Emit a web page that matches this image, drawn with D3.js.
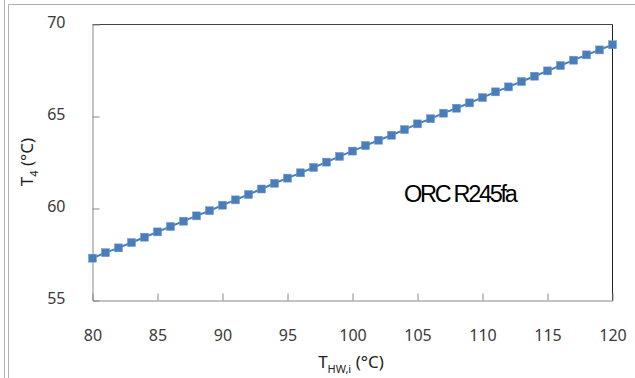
<!DOCTYPE html>
<html><head><meta charset="utf-8">
<script src="https://cdn.jsdelivr.net/npm/d3@7"></script>
<style>body{margin:0;background:#fff}svg{display:block}</style>
</head><body><svg id="c" width="635" height="378"></svg>
<script>
const xValues = [80,81,82,83,84,85,86,87,88,89,90,91,92,93,94,95,96,97,98,99,100,101,102,103,104,105,106,107,108,109,110,111,112,113,114,115,116,117,118,119,120];
const t4Values = [57.30,57.60,57.86,58.15,58.44,58.73,59.02,59.31,59.60,59.88,60.18,60.47,60.76,61.06,61.37,61.65,61.94,62.23,62.52,62.83,63.12,63.42,63.71,63.98,64.29,64.60,64.88,65.18,65.45,65.74,66.03,66.34,66.61,66.90,67.19,67.48,67.77,68.06,68.35,68.62,68.90];
const xTicks = [80,85,90,95,100,105,110,115,120];
const yTicks = [55,60,65,70];
const seriesLabel = "ORC R245fa";

const svg = d3.select("#c");
const L=92.5, R=612.5, T=24.5, B=300.5;
const x = d3.scaleLinear().domain([80,120]).range([L,R]);
const y = d3.scaleLinear().domain([55,70]).range([B,T]);
const font = "'Noto Sans','Open Sans',sans-serif";

// outer frame
svg.append("line").attr("x1",4.5).attr("x2",4.5).attr("y1",0).attr("y2",378).attr("stroke","#b0b0b0");
svg.append("line").attr("x1",8.5).attr("x2",8.5).attr("y1",4.5).attr("y2",378).attr("stroke","#b0b0b0");
svg.append("line").attr("x1",8.5).attr("x2",635).attr("y1",4.5).attr("y2",4.5).attr("stroke","#b0b0b0");

// plot frame
svg.append("line").attr("x1",L).attr("x2",R).attr("y1",T).attr("y2",T).attr("stroke","#444");
svg.append("line").attr("x1",R).attr("x2",R).attr("y1",T).attr("y2",B).attr("stroke","#222");

const xAxis = svg.append("g").attr("transform",`translate(0,${B})`)
  .call(d3.axisBottom(x).tickValues(xTicks).tickSize(-7).tickPadding(29).tickFormat(d3.format("d")));
const yAxis = svg.append("g").attr("transform",`translate(${L},0)`)
  .call(d3.axisLeft(y).tickValues(yTicks).tickSize(-7).tickPadding(27).tickFormat(d3.format("d")));
[xAxis,yAxis].forEach(a=>{
  a.select(".domain").attr("stroke","#888");
  a.selectAll(".tick line").attr("stroke","#888");
  a.selectAll(".tick text").attr("fill","#3a3a3a").style("font-family",font).style("font-size","16px");
});
yAxis.selectAll(".tick text").attr("dy","0.2em");
xAxis.select(".tick:first-of-type line").remove();
xAxis.select(".tick:last-of-type line").remove();
yAxis.select(".tick:first-of-type line").remove();
yAxis.select(".tick:last-of-type line").remove();

// line + markers
const pts = xValues.map((v,i)=>[v,t4Values[i]]);
svg.append("path").datum(pts)
  .attr("d", d3.line().x(d=>x(d[0])).y(d=>y(d[1])))
  .attr("fill","none").attr("stroke","#4a7ebb").attr("stroke-width",2);
svg.append("g").selectAll("rect").data(pts).join("rect")
  .attr("x",d=>x(d[0])-4).attr("y",d=>y(d[1])-4).attr("width",8).attr("height",8)
  .attr("fill","#4a7ebb").attr("stroke","#6f98cc").attr("stroke-width",0.5);

// annotation
svg.append("text").attr("x",404).attr("y",202).text(seriesLabel)
  .style("font-family","'Liberation Sans',Arial,sans-serif").style("font-size","23.5px")
  .style("letter-spacing","-2.3px").attr("fill","#000");

// axis titles
const yt = svg.append("text").attr("transform","translate(33,162) rotate(-90)")
  .attr("text-anchor","middle").style("font-family",font).style("font-size","17px").attr("fill","#222");
yt.append("tspan").text("T");
yt.append("tspan").text("4").attr("dy",5).style("font-size","11px");
yt.append("tspan").text(" (°C)").attr("dy",-5);

const xt = svg.append("text").attr("x",351).attr("y",368)
  .attr("text-anchor","middle").style("font-family",font).style("font-size","17px").attr("fill","#222");
xt.append("tspan").text("T");
xt.append("tspan").text("HW,i").attr("dy",5).style("font-size","11px");
xt.append("tspan").text(" (°C)").attr("dy",-5);
</script></body></html>
